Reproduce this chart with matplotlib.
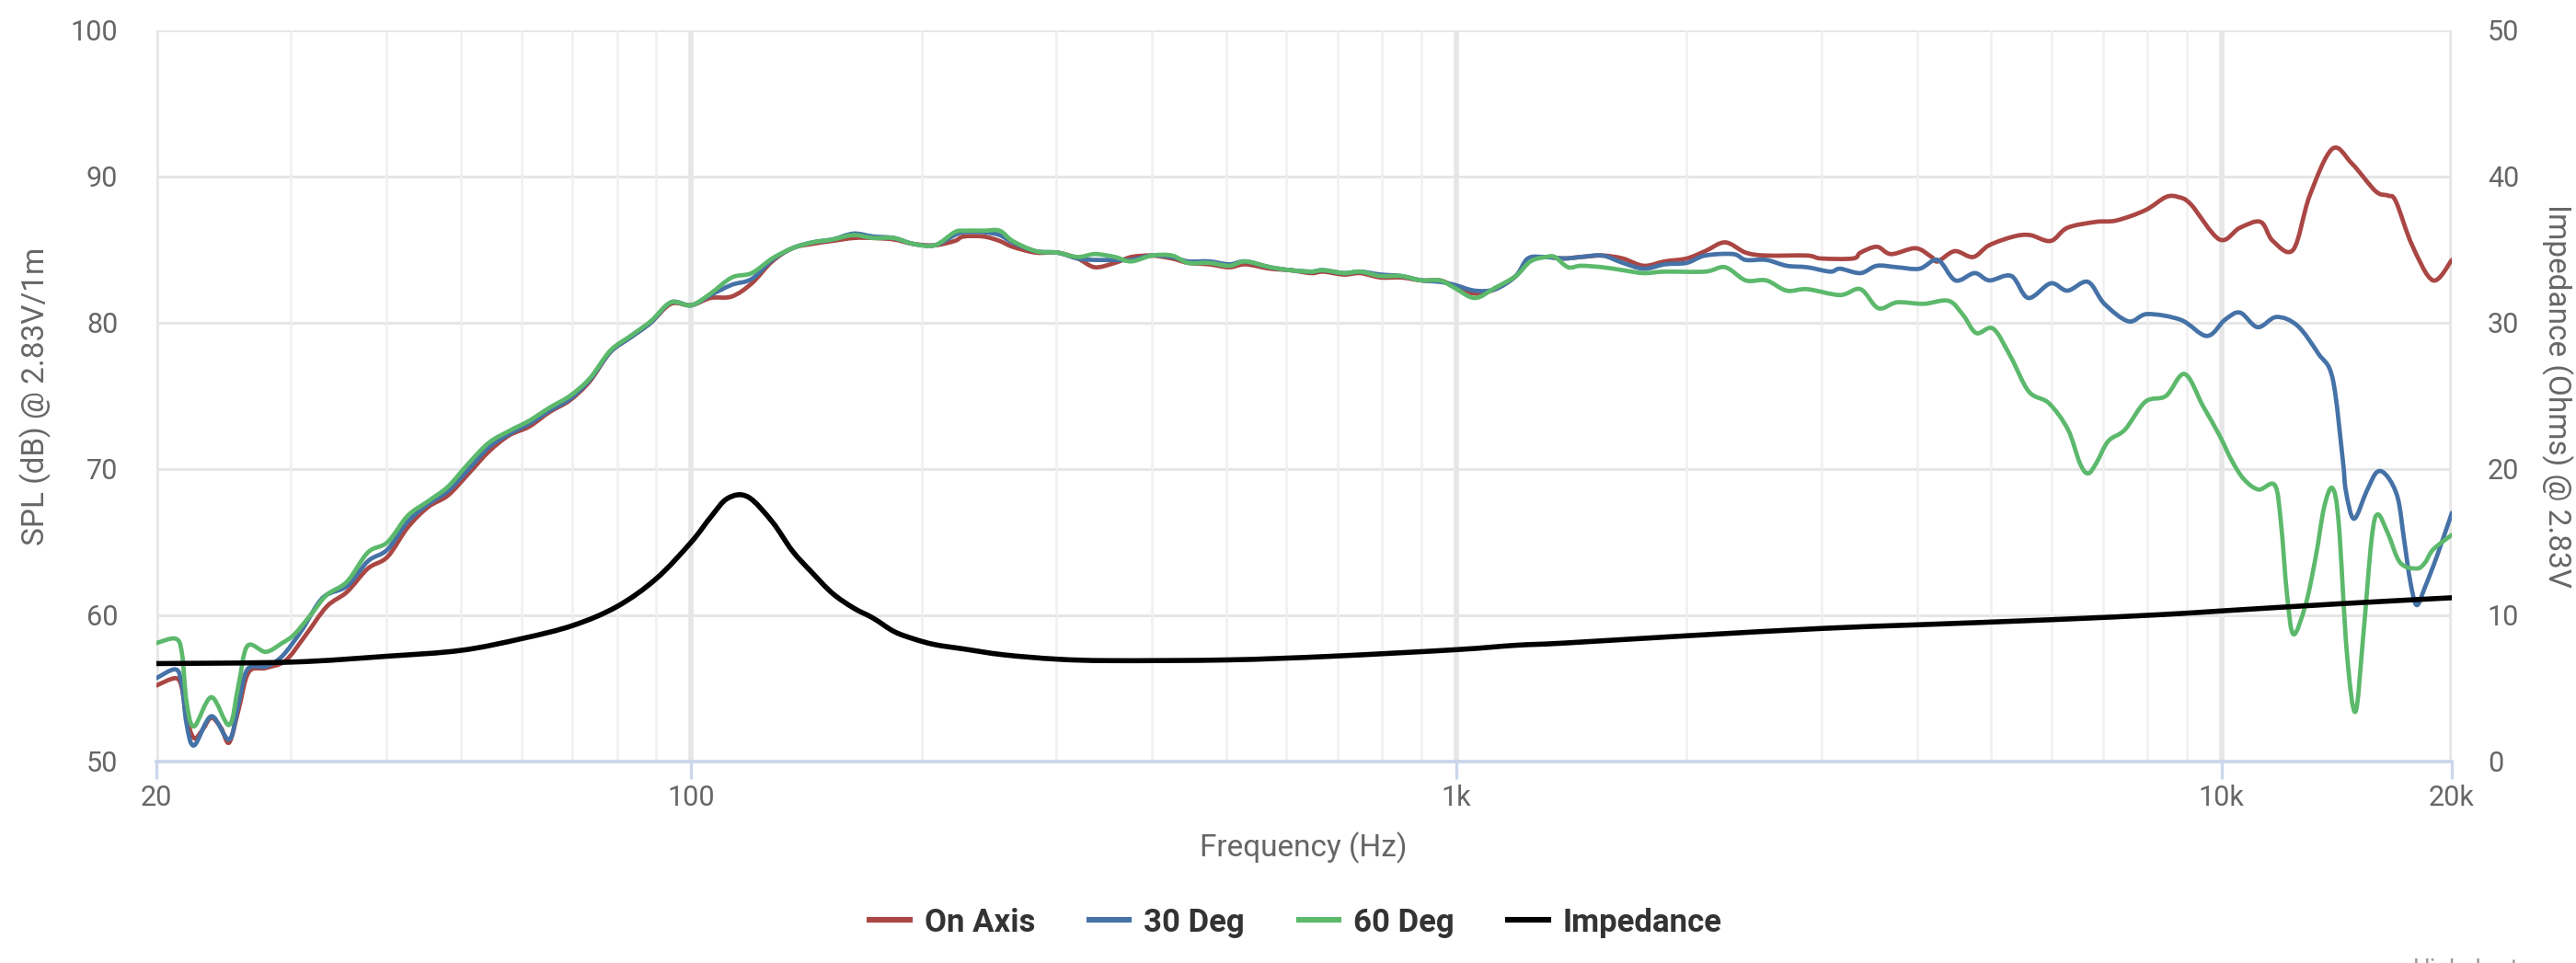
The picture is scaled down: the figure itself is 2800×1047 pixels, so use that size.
import matplotlib
matplotlib.use('Agg')
import matplotlib.pyplot as plt
import numpy as np
from matplotlib.ticker import FixedLocator, NullFormatter
from matplotlib.path import Path
from matplotlib.patches import PathPatch
from matplotlib.lines import Line2D

plt.rcParams['font.family'] = ['Roboto', 'DejaVu Sans']

# On Axis (red)
on_axis_hz = [20, 21.2, 21.6, 21.9, 22.4, 23.0, 23.6, 24.3, 24.9, 25.6, 26.4, 27.8, 29.5, 31.3, 33.4,
              35.5, 37.8, 40.1, 42.6, 45.3, 48.1, 51.2, 54.4, 57.8, 61.4, 65.3, 69.4, 73.7, 78.4, 83.3,
              88.5, 94.1, 100, 106, 113, 120, 127.6, 135.6, 144, 153, 163, 173, 184, 195, 208, 221,
              227, 241, 253, 263, 282, 301, 320, 337, 358, 376, 400, 425, 446, 475, 505, 530, 571,
              607, 646, 670, 713, 749, 796, 847, 901, 952, 994, 1057, 1124, 1196, 1240, 1303, 1382,
              1455, 1552, 1650, 1758, 1872, 2000, 2114, 2246, 2389, 2541, 2874, 2996, 3300, 3374,
              3545, 3700, 3984, 4179, 4259, 4480, 4735, 4968, 5350, 5620, 5980, 6290, 6850, 7290,
              7950, 8460, 8780, 9120, 9940, 10570, 11250, 11670, 12410, 13040, 13960, 14800, 15900,
              16500, 16900, 17750, 18900, 20000]
on_axis_db = [55.2, 55.7, 55.0, 53.0, 51.6, 52.2, 53.0, 52.3, 51.3, 53.5, 56.1, 56.4, 56.9, 58.6, 60.6,
              61.6, 63.2, 64.0, 66.0, 67.4, 68.2, 69.7, 71.2, 72.3, 72.9, 73.9, 74.7, 76.0, 78.0, 79.0,
              80.0, 81.3, 81.2, 81.7, 81.8, 82.7, 84.2, 85.1, 85.4, 85.6, 85.8, 85.8, 85.7, 85.4, 85.3, 85.6,
              85.9, 85.9, 85.6, 85.2, 84.8, 84.8, 84.4, 83.8, 84.1, 84.5, 84.6, 84.4, 84.1, 84.0, 83.8, 84.0, 83.7,
              83.6, 83.4, 83.5, 83.3, 83.4, 83.1, 83.1, 82.9, 82.9, 82.5, 82.0, 82.3, 83.2, 84.3, 84.5, 84.4,
              84.5, 84.6, 84.4, 83.9, 84.2, 84.4, 84.9, 85.5, 84.8, 84.6, 84.6, 84.4, 84.4, 84.8,
              85.2, 84.7, 85.1, 84.5, 84.2, 84.9, 84.5, 85.3, 85.9, 86.0, 85.6, 86.5, 86.9, 87.0,
              87.7, 88.6, 88.6, 88.1, 85.7, 86.5, 86.9, 85.6, 85.0, 88.7, 91.9, 90.9, 89.0,
              88.7, 88.3, 85.3, 82.9, 84.3]

# 30 Deg (blue)
deg30_hz = [20, 21.2, 21.6, 21.9, 22.4, 23.6, 24.9, 25.6, 26.3, 27.8, 29.2, 31.0, 33.0, 35.5, 37.8,
            40.1, 42.6, 45.3, 48.1, 51.2, 54.4, 57.8, 61.4, 65.3, 69.4, 73.7, 78.4, 83.3, 88.5, 94.1,
            100, 106, 113, 120, 127.6, 135.6, 144, 153, 163, 173, 184, 195, 208, 221, 227, 241, 253,
            263, 282, 301, 320, 337, 358, 376, 400, 425, 446, 475, 505, 530, 571, 607, 646, 670, 713,
            749, 796, 847, 901, 952, 994, 1057, 1124, 1196, 1240, 1303, 1382, 1455, 1552, 1650, 1758,
            1872, 2000, 2114, 2300, 2389, 2541, 2702, 2874, 3080, 3173, 3374, 3545, 3768, 4030, 4259,
            4490, 4757, 4973, 5314, 5590, 5980, 6290, 6690, 7030, 7560, 8000, 8850, 9570, 10100,
            10570, 11150, 11800, 12570, 13380, 13970, 14400, 14540, 14900, 15480, 15970, 16470,
            17000, 17320, 17650, 17990, 18440, 19140, 20000]
deg30_db = [55.7, 56.3, 55.2, 52.6, 51.1, 53.1, 51.5, 53.9, 56.3, 56.5, 57.2, 59.0, 61.2, 62.0, 63.7,
            64.5, 66.4, 67.6, 68.5, 70.0, 71.5, 72.4, 73.1, 74.0, 74.8, 76.1, 78.0, 79.0, 80.0, 81.4,
            81.2, 81.9, 82.6, 83.0, 84.3, 85.1, 85.5, 85.7, 86.1, 85.9, 85.8, 85.4, 85.3, 86.0, 86.2, 86.2, 86.0,
            85.5, 84.9, 84.8, 84.4, 84.3, 84.3, 84.3, 84.6, 84.5, 84.2, 84.2, 84.0, 84.2, 83.8, 83.6, 83.5, 83.6, 83.4,
            83.5, 83.3, 83.2, 82.9, 82.8, 82.6, 82.2, 82.3, 83.2, 84.4, 84.5, 84.4, 84.5, 84.6, 84.1, 83.7,
            84.0, 84.1, 84.6, 84.7, 84.3, 84.3, 83.9, 83.8, 83.5, 83.7, 83.4, 83.9, 83.8, 83.7, 84.3,
            82.9, 83.4, 82.9, 83.2, 81.7, 82.7, 82.2, 82.8, 81.3, 80.1, 80.6, 80.2, 79.1, 80.2,
            80.7, 79.7, 80.4, 79.8, 77.9, 76.2, 70.7, 68.5, 66.6, 68.5, 69.8, 69.5,
            68.0, 65.2, 62.3, 60.7, 61.9, 64.1, 67.0]

# 60 Deg (green)
deg60_hz = [20, 21.2, 21.6, 21.9, 22.4, 23.6, 24.9, 25.6, 26.3, 27.8, 29.2, 30.3, 31.9, 33.4, 35.5,
            37.8, 40.1, 42.6, 45.3, 48.1, 51.2, 54.4, 57.8, 61.4, 65.3, 69.4, 73.7, 78.4, 83.3, 88.5,
            94.1, 100, 106, 113, 120, 127.6, 135.6, 144, 153, 163, 173, 184, 195, 208, 221, 227, 241,
            253, 263, 282, 301, 320, 337, 358, 376, 400, 425, 446, 475, 505, 530, 571, 607, 646, 670,
            713, 749, 796, 847, 901, 952, 994, 1057, 1124, 1196, 1250, 1310, 1345, 1400, 1455, 1552,
            1650, 1758, 1872, 2114, 2246, 2389, 2541, 2702, 2874, 3173, 3374, 3560, 3768, 4080, 4400,
            4600, 4780, 5030, 5300, 5600, 5950, 6300, 6530, 6690, 6860, 7110, 7480, 7950, 8460, 8950,
            9460, 9940, 10310, 10700, 11180, 11740, 11960, 12180, 12420, 12890, 13290, 13620, 13960,
            14230, 14580, 14960, 15320, 15710, 16000, 16500, 17120, 18000, 18450, 18910, 20000]
deg60_db = [58.1, 58.4, 57.4, 54.1, 52.4, 54.4, 52.5, 55.2, 57.9, 57.5, 58.1, 58.7, 60.1, 61.4, 62.3,
            64.3, 65.0, 66.8, 67.8, 68.8, 70.4, 71.8, 72.6, 73.3, 74.2, 75.0, 76.2, 78.1, 79.1, 80.1,
            81.4, 81.2, 82.0, 83.1, 83.4, 84.4, 85.1, 85.5, 85.7, 86.0, 85.8, 85.8, 85.4, 85.3, 86.2, 86.3, 86.3,
            86.3, 85.6, 84.9, 84.8, 84.5, 84.7, 84.5, 84.2, 84.6, 84.6, 84.1, 84.1, 83.9, 84.2, 83.8, 83.6, 83.5, 83.6,
            83.4, 83.5, 83.2, 83.2, 82.9, 82.9, 82.4, 81.7, 82.4, 83.2, 84.2, 84.5, 84.5, 83.8, 83.9, 83.8,
            83.6, 83.4, 83.5, 83.5, 83.8, 82.9, 82.9, 82.2, 82.3, 81.9, 82.3, 81.0, 81.4, 81.3, 81.5,
            80.5, 79.3, 79.6, 77.7, 75.3, 74.5, 72.7, 70.4, 69.7, 70.4, 71.9, 72.7, 74.6, 75.0, 76.5,
            74.3, 72.3, 70.6, 69.3, 68.6, 68.9, 66.3, 61.4, 58.7, 60.8, 64.1, 67.4, 68.7,
            66.3, 57.5, 53.4, 58.6, 65.2, 66.9, 65.6, 63.6, 63.2, 63.6, 64.5, 65.5]

# Impedance (ohms, right axis)
imp_hz = [20, 30, 40, 50, 60, 70, 80, 90, 100, 106, 111.6, 118.6, 127.6, 135.6, 144, 153, 163, 173,
          184, 195, 208, 227, 256, 301, 354, 503, 687, 1000, 1196, 1382, 2000, 3000, 4000, 6000,
          8370, 10000, 14400, 20000]
imp_ohm = [6.7, 6.8, 7.2, 7.6, 8.4, 9.3, 10.6, 12.5, 15.0, 16.7, 18.0, 18.1, 16.4, 14.4, 12.9, 11.5, 10.5, 9.8,
           8.9, 8.4, 8.0, 7.7, 7.3, 7.0, 6.9, 6.95, 7.2, 7.65, 7.95, 8.1, 8.6, 9.1, 9.35, 9.7,
           10.05, 10.3, 10.8, 11.2]

x_major = [20, 100, 1000, 10000, 20000]
x_major_labels = ['20', '100', '1k', '10k', '20k']
x_minor = [30, 40, 50, 60, 70, 80, 90, 200, 300, 400, 500, 600, 700, 800, 900,
           2000, 3000, 4000, 5000, 6000, 7000, 8000, 9000]
spl_ticks = [50, 60, 70, 80, 90, 100]
imp_ticks = [0, 10, 20, 30, 40, 50]

RED = '#aa4643'
BLUE = '#4572a7'
GREEN = '#5cb96c'
LABEL = '#666666'


def spline_path(hz, vals):
    # smooth curve through the points (like a highcharts spline), built in log-frequency space
    lx = np.log10(hz)
    y = np.asarray(vals, dtype=float)
    n = len(lx)
    verts = [(hz[0], y[0])]
    codes = [Path.MOVETO]
    for i in range(n - 1):
        i0 = max(i - 1, 0)
        i3 = min(i + 2, n - 1)
        c1x = lx[i] + (lx[i + 1] - lx[i0]) / 6
        c1y = y[i] + (y[i + 1] - y[i0]) / 6
        c2x = lx[i + 1] - (lx[i3] - lx[i]) / 6
        c2y = y[i + 1] - (y[i3] - y[i]) / 6
        verts += [(10 ** c1x, c1y), (10 ** c2x, c2y), (hz[i + 1], y[i + 1])]
        codes += [Path.CURVE4] * 3
    return Path(verts, codes)


def add_curve(axis, hz, vals, color, lw, z):
    patch = PathPatch(spline_path(hz, vals), fill=False, edgecolor=color, lw=lw,
                      joinstyle='round', capstyle='round', zorder=z)
    axis.add_patch(patch)


def response_graph():
    fig = plt.figure(figsize=(14, 5.235), dpi=200)
    ax = fig.add_axes([0.0607, 0.2092, 0.8911, 0.7593])
    ax2 = ax.twinx()

    ax.set_xscale('log')
    ax.set_xlim(20, 20000)
    ax.set_ylim(50, 100)
    ax2.set_ylim(0, 50)

    # grid
    for v in spl_ticks:
        ax.axhline(v, color='#e6e6e6', lw=1.1, zorder=0)
    for v in x_minor:
        ax.axvline(v, color='#f0f0f0', lw=0.9, zorder=0)
    for v in x_major:
        ax.axvline(v, color='#e6e6e6', lw=2.0, zorder=0)

    add_curve(ax, on_axis_hz, on_axis_db, RED, 1.7, 3)
    add_curve(ax, deg30_hz, deg30_db, BLUE, 1.7, 4)
    add_curve(ax, deg60_hz, deg60_db, GREEN, 1.7, 5)
    add_curve(ax2, imp_hz, imp_ohm, 'black', 2.0, 6)

    ax.xaxis.set_major_locator(FixedLocator(x_major))
    ax.set_xticklabels(x_major_labels)
    ax.xaxis.set_minor_locator(FixedLocator(x_minor))
    ax.xaxis.set_minor_formatter(NullFormatter())
    ax.tick_params(axis='x', which='major', length=7, width=1.2, color='#ccd6eb',
                   labelsize=11, labelcolor=LABEL, pad=2)
    ax.tick_params(axis='x', which='minor', length=0)
    ax.set_yticks(spl_ticks)
    ax.tick_params(axis='y', length=0, labelsize=11, labelcolor=LABEL, pad=15)
    ax2.set_yticks(imp_ticks)
    ax2.tick_params(axis='y', length=0, labelsize=11, labelcolor=LABEL, pad=14)

    for sp in ['top', 'left', 'right']:
        ax.spines[sp].set_visible(False)
        ax2.spines[sp].set_visible(False)
    ax2.spines['bottom'].set_visible(False)
    ax.spines['bottom'].set_color('#ccd6eb')
    ax.spines['bottom'].set_linewidth(1.4)
    ax.spines['bottom'].set_zorder(1)

    fig.text(0.5061, 0.1194, 'Frequency (Hz)', ha='center', va='center', fontsize=12, color=LABEL)
    fig.text(0.0140, 0.5888, 'SPL (dB) @ 2.83V/1m', ha='center', va='center', rotation=90,
             fontsize=12, color=LABEL)
    fig.text(0.9925, 0.5888, 'Impedance (Ohms) @ 2.83V', ha='center', va='center', rotation=270,
             fontsize=12, color=LABEL)

    handles = [Line2D([], [], color=RED, lw=2.2),
               Line2D([], [], color=BLUE, lw=2.2),
               Line2D([], [], color=GREEN, lw=2.2),
               Line2D([], [], color='black', lw=2.2)]
    names = ['On Axis', '30 Deg', '60 Deg', 'Impedance']
    leg = fig.legend(handles, names, loc='center',
                     bbox_to_anchor=(0.503, 0.042), ncol=4, frameon=False,
                     handlelength=1.25, handletextpad=0.45, columnspacing=1.7,
                     prop={'size': 12.5, 'weight': 'bold'})
    for t in leg.get_texts():
        t.set_color('#333333')

    # credit line, cut by the bottom edge as in the original
    fig.text(0.9368, 0.0048, 'Highcharts.com', ha='left', va='top', fontsize=9.5, color='#999999')

    fig.savefig('out.png', dpi=200)


if __name__ == '__main__':
    response_graph()
